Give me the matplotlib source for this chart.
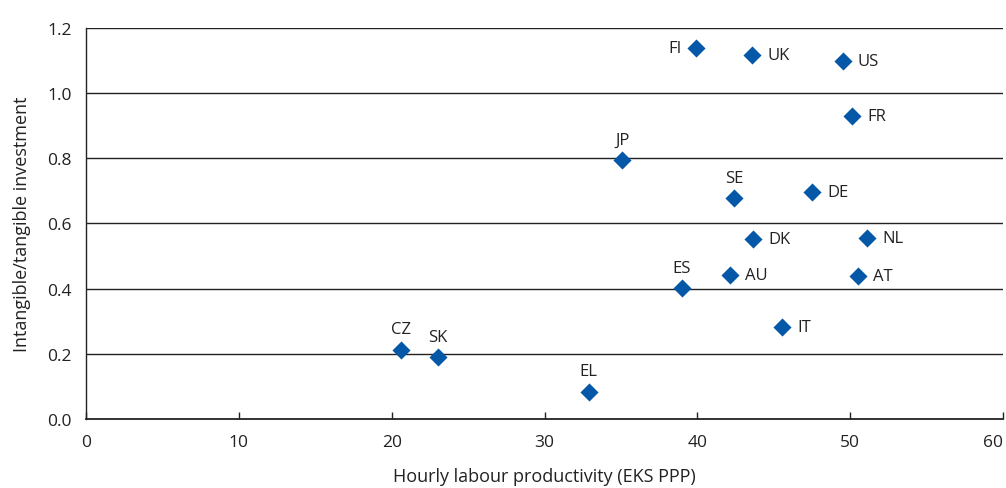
import matplotlib
matplotlib.use("Agg")
import matplotlib.pyplot as plt

countries = ["FI", "UK", "US", "FR", "JP", "SE", "DE", "DK", "NL", "ES", "AU", "AT", "IT", "CZ", "SK", "EL"]
productivity = [39.9, 43.6, 49.5, 50.1, 35.1, 42.4, 47.5, 43.65, 51.1, 39.0, 42.15, 50.5, 45.55, 20.6, 23.0, 32.9]
ratio = [1.139, 1.117, 1.099, 0.930, 0.795, 0.678, 0.697, 0.552, 0.556, 0.402, 0.442, 0.439, 0.282, 0.212, 0.190, 0.083]
label_pos = ["left", "right", "right", "right", "above", "above", "right", "right", "right", "above", "right", "right", "right", "above", "above", "above"]
xticks = [0, 10, 20, 30, 40, 50, 60]
yticks = [0.0, 0.2, 0.4, 0.6, 0.8, 1.0, 1.2]

plt.rcParams['font.family'] = ['Open Sans', 'DejaVu Sans']
fig = plt.figure(figsize=(10.06, 4.89), dpi=100)
ax = fig.add_axes([86/1006, 1-420/489, (1003-86)/1006, (420-29)/489])

color = "#0558A8"
ax.scatter(productivity, ratio, marker="D", s=85, color=color, zorder=3, linewidths=0)

tc = "#222222"
for c, x, y, p in zip(countries, productivity, ratio, label_pos):
    if p == "right":
        ax.annotate(c, (x, y), xytext=(11, 0), textcoords="offset points", ha="left", va="center", fontsize=12, color=tc)
    elif p == "left":
        ax.annotate(c, (x, y), xytext=(-10, 0), textcoords="offset points", ha="right", va="center", fontsize=12, color=tc)
    else:
        ax.annotate(c, (x, y), xytext=(0, 9), textcoords="offset points", ha="center", va="bottom", fontsize=12, color=tc)

ax.set_xlim(0, 60)
ax.set_ylim(0, 1.2)
ax.set_xticks(xticks)
ax.set_xticklabels([str(t) for t in xticks])
ax.get_xticklabels()[-1].set_horizontalalignment("right")
ax.set_yticks(yticks)
ax.set_yticklabels([f"{t:.1f}" for t in yticks])
for y in yticks[1:]:
    ax.axhline(y, color=tc, lw=1.0, zorder=1)

for s in ["top", "right"]:
    ax.spines[s].set_visible(False)
ax.spines["left"].set_color(tc)
ax.spines["bottom"].set_color(tc)
ax.spines["left"].set_linewidth(1.0)
ax.spines["bottom"].set_linewidth(1.3)
ax.tick_params(axis="x", direction="in", length=5, width=1, colors=tc, labelsize=12.5, pad=11)
ax.tick_params(axis="y", length=0, labelsize=12.5, pad=10, colors=tc)
ax.set_xlabel("Hourly labour productivity (EKS PPP)", fontsize=13, color=tc, labelpad=12)
ax.set_ylabel("Intangible/tangible investment", fontsize=13, color=tc, labelpad=12)

fig.savefig("out.png", dpi=100)
